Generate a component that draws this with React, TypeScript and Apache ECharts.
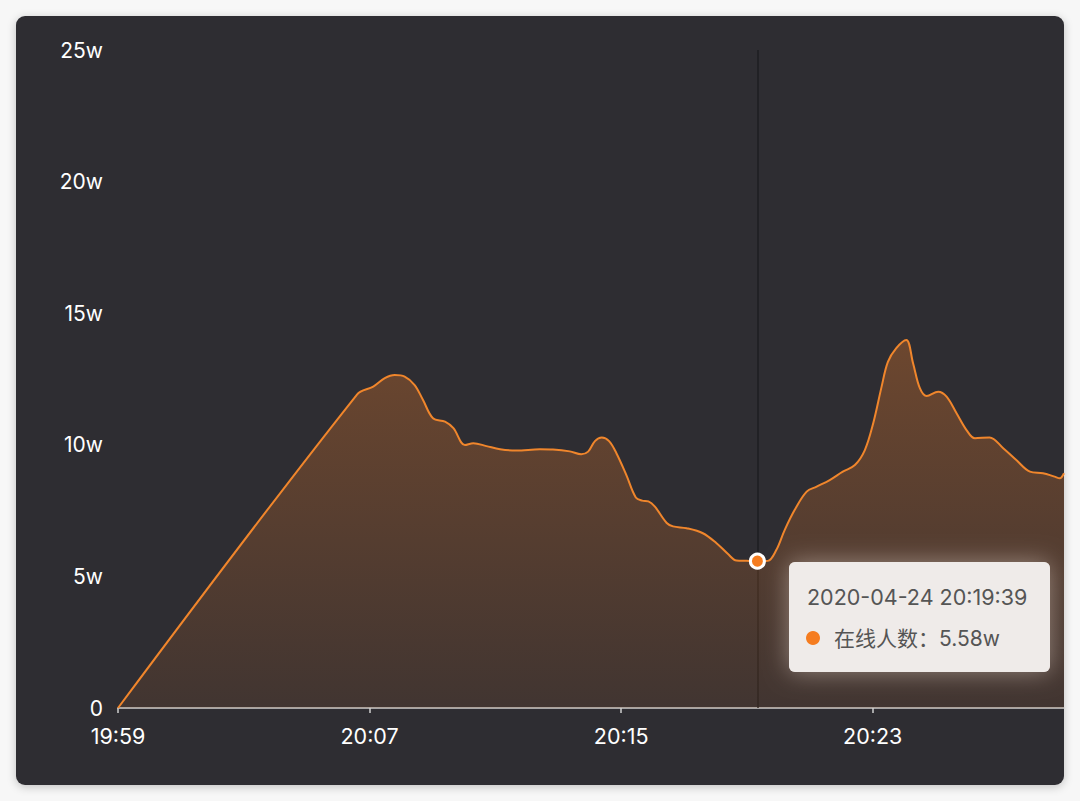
import React, { useEffect, useRef } from 'react';
import * as echarts from 'echarts';

const startTime = '19:59:19';
const times = [
  '19:59:19', '20:06:55', '20:07:26', '20:07:48', '20:08:07', '20:08:26', '20:08:45', '20:09:01',
  '20:09:20', '20:09:43', '20:09:59', '20:10:21', '20:10:37', '20:11:02', '20:11:28', '20:11:59',
  '20:12:44', '20:13:09', '20:13:41', '20:14:03', '20:14:16', '20:14:29', '20:14:42', '20:14:56',
  '20:15:10', '20:15:29', '20:15:47', '20:15:59', '20:16:11', '20:16:23', '20:16:46', '20:16:58',
  '20:17:24', '20:17:55', '20:18:21', '20:18:43', '20:18:59', '20:19:18', '20:19:39', '20:19:59',
  '20:20:15', '20:20:31', '20:20:50', '20:21:13', '20:21:32', '20:21:57', '20:22:22', '20:22:45',
  '20:23:04', '20:23:20', '20:23:36', '20:23:48', '20:24:04', '20:24:23', '20:24:36', '20:24:49',
  '20:25:02', '20:25:24', '20:25:40', '20:25:59', '20:26:18', '20:26:34', '20:27:02', '20:27:28',
  '20:27:53', '20:28:19', '20:28:44', '20:29:06', '20:29:16', '20:29:24',
];
const onlineWan = [
  0, 11.91, 12.21, 12.53, 12.65, 12.59, 12.27, 11.7,
  11.01, 10.88, 10.63, 9.99, 10.06, 9.95, 9.83, 9.78,
  9.83, 9.82, 9.75, 9.64, 9.74, 10.14, 10.28, 10.14,
  9.68, 8.85, 8.0, 7.88, 7.85, 7.66, 7.03, 6.9,
  6.83, 6.64, 6.26, 5.85, 5.6, 5.59, 5.58, 5.59,
  6.0, 6.76, 7.52, 8.22, 8.41, 8.66, 8.98, 9.23,
  9.8, 10.82, 12.21, 13.15, 13.67, 13.98, 13.1, 12.15,
  11.85, 12.02, 11.83, 11.2, 10.56, 10.25, 10.28, 9.87,
  9.42, 8.98, 8.92, 8.79, 8.73, 8.92,
];
const seriesName = '在线人数';
const tipDate = '2020-04-24';
const tipTime = '20:19:39';
const tipValue = 5.58;

function toSec(t: string) {
  const [h, m, s] = t.split(':').map(Number);
  return h * 3600 + m * 60 + s;
}
function fmtHM(sec: number) {
  const h = Math.floor(sec / 3600) % 24;
  const m = Math.floor((sec % 3600) / 60);
  return String(h).padStart(2, '0') + ':' + String(m).padStart(2, '0');
}

export default function App() {
  const ref = useRef<HTMLDivElement>(null);
  useEffect(() => {
    const chart = echarts.init(ref.current as HTMLDivElement, null, { renderer: 'svg' });
    const base = toSec(startTime);
    const data = times.map((t, i) => [toSec(t) - base, onlineWan[i]]);
    const tipX = toSec(tipTime) - base;
    const maxX = data[data.length - 1][0];
    const labelFont = 'Inter, "Noto Sans", sans-serif';
    const tipFont = 'Inter, "Noto Sans CJK SC", sans-serif';
    chart.setOption({
      animation: false,
      grid: { left: 118, right: 16, top: 50, bottom: 93, containLabel: false },
      xAxis: {
        type: 'value',
        min: 0,
        max: maxX,
        interval: 480,
        axisLine: { show: true, lineStyle: { color: '#cfcfcf', width: 1.5 } },
        axisTick: { show: true, length: 5, lineStyle: { color: '#cfcfcf', width: 1.5 } },
        splitLine: { show: false },
        axisLabel: {
          color: '#ffffff',
          fontSize: 21.5,
          fontFamily: labelFont,
          margin: 17,
          showMaxLabel: false,
          formatter: (v: number) => fmtHM(base + v),
        },
      },
      yAxis: {
        type: 'value',
        min: 0,
        max: 25,
        interval: 5,
        axisLine: { show: false },
        axisTick: { show: false },
        splitLine: { show: false },
        axisLabel: {
          color: '#ffffff',
          fontSize: 21,
          fontFamily: labelFont,
          margin: 15,
          formatter: (v: number) => (v === 0 ? '0' : v + 'w'),
        },
      },
      series: [
        {
          name: seriesName,
          type: 'line',
          data,
          showSymbol: false,
          smooth: 0.35,
          lineStyle: { color: '#f0862c', width: 2 },
          areaStyle: {
            color: new echarts.graphic.LinearGradient(0, 0, 0, 1, [
              { offset: 0, color: 'rgba(240,125,40,0.46)' },
              { offset: 1, color: 'rgba(240,125,40,0.14)' },
            ]),
          },
          markLine: {
            silent: true,
            symbol: 'none',
            z: 3,
            label: { show: false },
            lineStyle: { color: '#1e1e22', width: 1.5, type: 'solid' },
            data: [{ xAxis: tipX }],
          },
          markPoint: {
            silent: true,
            z: 8,
            symbol: 'circle',
            symbolSize: 14,
            label: { show: false },
            itemStyle: { color: '#f57c1f', borderColor: '#ffffff', borderWidth: 3 },
            data: [{ coord: [tipX, tipValue] }],
          },
        },
      ],
      graphic: [
        {
          type: 'rect',
          z: 100,
          shape: { x: 789, y: 562, width: 261, height: 110, r: 6 },
          style: { fill: 'rgba(255,245,238,0.6)', shadowBlur: 24, shadowColor: 'rgba(255,240,230,0.7)' },
        },
        {
          type: 'rect',
          z: 101,
          shape: { x: 789, y: 562, width: 261, height: 110, r: 6 },
          style: { fill: '#efebe9' },
        },
        {
          type: 'text',
          z: 102,
          x: 807,
          y: 597,
          style: {
            text: tipDate + ' ' + tipTime,
            fill: '#555555',
            fontSize: 21.5,
            fontFamily: tipFont,
            verticalAlign: 'middle',
          },
        },
        {
          type: 'circle',
          z: 102,
          shape: { cx: 813, cy: 638, r: 7 },
          style: { fill: '#f57c1f' },
        },
        {
          type: 'text',
          z: 102,
          x: 834,
          y: 638,
          style: {
            text: seriesName + '：' + tipValue + 'w',
            fill: '#555555',
            fontSize: 21,
            fontFamily: tipFont,
            verticalAlign: 'middle',
          },
        },
      ],
    });
    return () => chart.dispose();
  }, []);
  return (
    <div style={{ position: 'fixed', left: 0, top: 0, width: 1080, height: 801, background: '#f7f7f7' }}>
      <div
        style={{
          position: 'absolute',
          left: 16,
          top: 16,
          width: 1048,
          height: 769,
          background: '#2e2d32',
          borderRadius: 9,
          boxShadow: '0 2px 10px rgba(0,0,0,0.22)',
        }}
      />
      <div ref={ref} style={{ position: 'absolute', left: 0, top: 0, width: 1080, height: 801 }} />
    </div>
  );
}
